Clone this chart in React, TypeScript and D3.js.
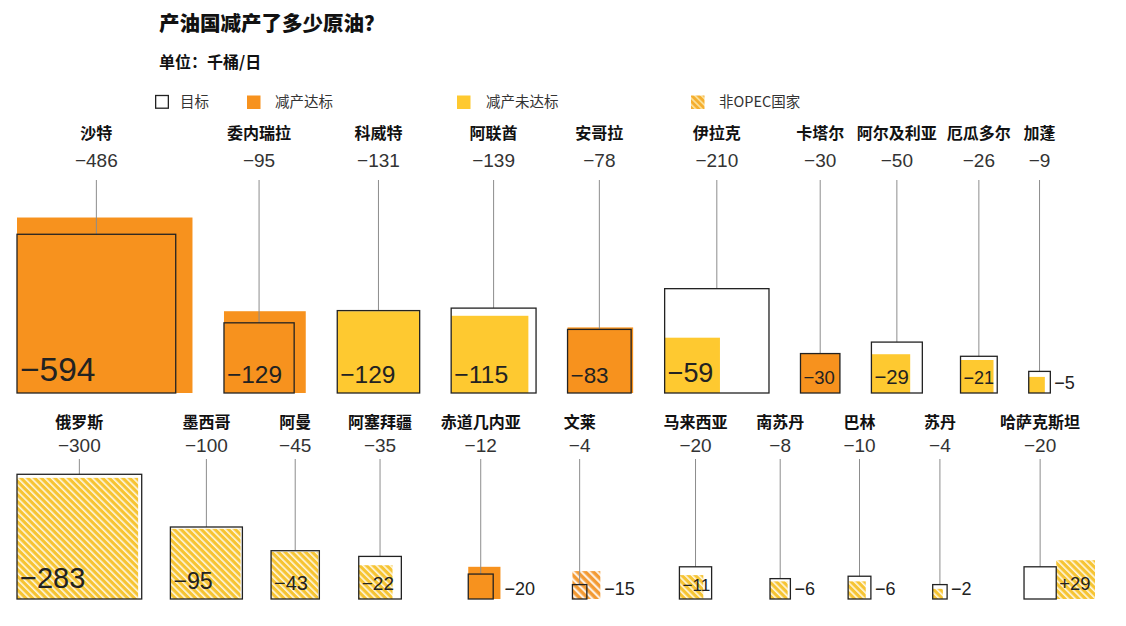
import React from 'react';
import * as d3 from 'd3';

// ---------- data ----------
const title = '产油国减产了多少原油？';
const subtitle = '单位：千桶/日';
const legendLabels = ['目标', '减产达标', '减产未达标', '非OPEC国家'];

const topNames = ['沙特', '委内瑞拉', '科威特', '阿联酋', '安哥拉', '伊拉克', '卡塔尔', '阿尔及利亚', '厄瓜多尔', '加蓬'];
const topTargets = [-486, -95, -131, -139, -78, -210, -30, -50, -26, -9];
const topActuals = [-594, -129, -129, -115, -83, -59, -30, -29, -21, -5];

const bottomNames = ['俄罗斯', '墨西哥', '阿曼', '阿塞拜疆', '赤道几内亚', '文莱', '马来西亚', '南苏丹', '巴林', '苏丹', '哈萨克斯坦'];
const bottomTargets = [-300, -100, -45, -35, -12, -4, -20, -8, -10, -4, -20];
const bottomActuals = [-283, -95, -43, -22, -20, -15, -11, -6, -6, -2, 29];

const nonOpec = ['俄罗斯', '墨西哥', '阿曼', '阿塞拜疆', '文莱', '马来西亚', '南苏丹', '巴林', '苏丹', '哈萨克斯坦'];

// ---------- styles / layout ----------
const W = 1126;
const H = 626;
const ORANGE = '#F7921E';
const YELLOW = '#FEC930';
const HATCH_Y_BASE = '#F6C433';
const HATCH_O_BASE = '#F39A33';
const NUM_FONT = '"Liberation Sans", Arial, "Noto Sans CJK SC", sans-serif';
const CJK_FONT = '"Noto Sans CJK SC", "Noto Sans", sans-serif';

const size = d3.scaleSqrt().domain([0, 600]).range([0, 7.2 * Math.sqrt(600)]);
const fmt = d3.format('+d');
const fmtTarget = d3.format('d');

const NAME_FS = 16;
const VALUE_FS = 19;
const OUT_FS = 18;
const numW = (s: string, fs: number) => s.length * 0.565 * fs;

type Item = {
  name: string; target: number; actual: number;
  met: boolean; opec: boolean; inc: boolean;
  wT: number; wA: number; outside: boolean; fs: number;
  tLabel: string; aLabel: string;
};

function buildItems(names: string[], targets: number[], actuals: number[]): Item[] {
  return names.map((name, i) => {
    const target = targets[i];
    const actual = actuals[i];
    const inc = actual > 0;
    const met = !inc && Math.abs(actual) >= Math.abs(target);
    const wT = size(Math.abs(target));
    const wA = size(Math.abs(actual));
    const outside = Math.abs(target) < 15;
    const maxSide = Math.max(wT, wA);
    const fs = 5 + 2.15 * Math.sqrt(maxSide);
    return {
      name, target, actual, met, inc, wT, wA, outside, fs,
      opec: !nonOpec.includes(name),
      tLabel: fmtTarget(target),
      aLabel: inc ? fmt(actual) : fmtTarget(actual),
    };
  });
}

type RowCfg = {
  baseY: number; nameY: number; valueY: number; lineY0: number;
  x0: number; x1: number; mode: 'gap' | 'justify'; gap: number; pad: number;
};

function layoutRow(items: Item[], cfg: RowCfg): number[] {
  const ext = items.map((it) => {
    const boxR = (it.inc ? it.wT + it.wA : Math.max(it.wT, it.wA)) +
      (it.outside ? 4 + numW(it.aLabel, OUT_FS) : 0);
    const lw = Math.max(it.name.length * NAME_FS, numW(it.tLabel, VALUE_FS));
    const c = it.wT / 2;
    return { boxR, lL: c - lw / 2, lR: c + lw / 2, eL: Math.min(0, c - lw / 2), eR: Math.max(boxR, c + lw / 2) };
  });
  const xs: number[] = [];
  if (cfg.mode === 'gap') {
    let prevBox = 0;
    let prevLab = 0;
    ext.forEach((e, i) => {
      const L = i === 0 ? cfg.x0 : Math.max(prevBox + cfg.gap, prevLab + cfg.pad - e.lL);
      xs.push(L);
      prevBox = L + e.boxR;
      prevLab = L + e.lR;
    });
  } else {
    const total = d3.sum(ext, (e) => e.eR - e.eL);
    const g = (cfg.x1 - cfg.x0 - total) / (ext.length - 1);
    let cur = cfg.x0;
    ext.forEach((e) => {
      xs.push(cur - e.eL);
      cur += e.eR - e.eL + g;
    });
  }
  return xs;
}

const topCfg: RowCfg = { baseY: 393, nameY: 139, valueY: 166.5, lineY0: 180, x0: 17, x1: 1095, mode: 'gap', gap: 31.5, pad: 10 };
const bottomCfg: RowCfg = { baseY: 599, nameY: 428, valueY: 451.5, lineY0: 459, x0: 17, x1: 1095, mode: 'justify', gap: 0, pad: 0 };

function fillFor(it: Item) {
  if (it.opec) return it.met ? ORANGE : YELLOW;
  return it.met ? 'url(#hatchO)' : 'url(#hatchY)';
}

function Row({ items, cfg }: { items: Item[]; cfg: RowCfg }) {
  const xs = layoutRow(items, cfg);
  return (
    <g>
      {items.map((it, i) => {
        const L = xs[i];
        const cx = L + it.wT / 2;
        const ax = it.inc ? L + it.wT : L;
        const boxRight = it.inc ? L + it.wT + it.wA : L + Math.max(it.wT, it.wA);
        return (
          <g key={it.name}>
            {it.inc && (
              <rect x={L} y={cfg.baseY - it.wT} width={it.wT} height={it.wT} fill="#fff" />
            )}
            <rect x={ax} y={cfg.baseY - it.wA} width={it.wA} height={it.wA} fill={fillFor(it)} />
            <line x1={cx} x2={cx} y1={cfg.lineY0} y2={cfg.baseY - it.wT} stroke="#8d8d8d" strokeWidth={1} />
            <rect x={L} y={cfg.baseY - it.wT} width={it.wT} height={it.wT} fill="none" stroke="#222" strokeWidth={1.3} />
            <text x={cx} y={cfg.nameY} textAnchor="middle" fontFamily={CJK_FONT} fontWeight={700} fontSize={NAME_FS} fill="#111">{it.name}</text>
            <text x={cx} y={cfg.valueY} textAnchor="middle" fontFamily={NUM_FONT} fontSize={VALUE_FS} fill="#333">{it.tLabel}</text>
            {it.outside ? (
              <text x={boxRight + 4} y={cfg.baseY - 4.5} fontFamily={NUM_FONT} fontSize={OUT_FS} fill="#222">{it.aLabel}</text>
            ) : (
              <text x={ax + 3} y={cfg.baseY - (0.25 * it.fs + 4)} fontFamily={NUM_FONT} fontSize={it.fs} fill="#222">{it.aLabel}</text>
            )}
          </g>
        );
      })}
    </g>
  );
}

const legendX = [155, 247, 457, 691];
const legendTextX = [180, 275, 486, 719];

export default function App() {
  const top = buildItems(topNames, topTargets, topActuals);
  const bottom = buildItems(bottomNames, bottomTargets, bottomActuals);
  const legendFills = ['none', ORANGE, YELLOW, 'url(#hatchL)'];
  return (
    <svg width={W} height={H} style={{ position: 'absolute', left: 0, top: 0, background: '#fff' }}>
      <defs>
        <pattern id="hatchY" width={4.8} height={4.8} patternUnits="userSpaceOnUse" patternTransform="rotate(-45)">
          <rect width={4.8} height={4.8} fill={HATCH_Y_BASE} />
          <rect width={1.6} height={4.8} fill="#fff" opacity={0.85} />
        </pattern>
        <pattern id="hatchO" width={5.6} height={5.6} patternUnits="userSpaceOnUse" patternTransform="rotate(-45)">
          <rect width={5.6} height={5.6} fill={HATCH_O_BASE} />
          <rect width={2.2} height={5.6} fill="#fff" opacity={0.85} />
        </pattern>
        <pattern id="hatchL" width={4.5} height={4.5} patternUnits="userSpaceOnUse" patternTransform="rotate(-45)">
          <rect width={4.5} height={4.5} fill="#F5AE2E" />
          <rect width={1.6} height={4.5} fill="#FBE3A0" />
        </pattern>
      </defs>
      <rect width={W} height={H} fill="#fff" />
      <text x={159} y={31} fontFamily={CJK_FONT} fontWeight={900} fontSize={20.5} fill="#111">{title}</text>
      <text x={159} y={68} fontFamily={CJK_FONT} fontWeight={700} fontSize={16} fill="#111">{subtitle}</text>
      {legendLabels.map((lab, i) => (
        <g key={lab}>
          <rect x={legendX[i] + (i === 0 ? 0.65 : 0)} y={95.5} width={i === 0 ? 12.7 : 13.5} height={i === 0 ? 12.7 : 13.5}
            fill={legendFills[i]} stroke={i === 0 ? '#222' : 'none'} strokeWidth={1.3} />
          <text x={legendTextX[i]} y={107} fontFamily={CJK_FONT} fontSize={14.5} fill="#333">{lab}</text>
        </g>
      ))}
      <Row items={top} cfg={topCfg} />
      <Row items={bottom} cfg={bottomCfg} />
    </svg>
  );
}
